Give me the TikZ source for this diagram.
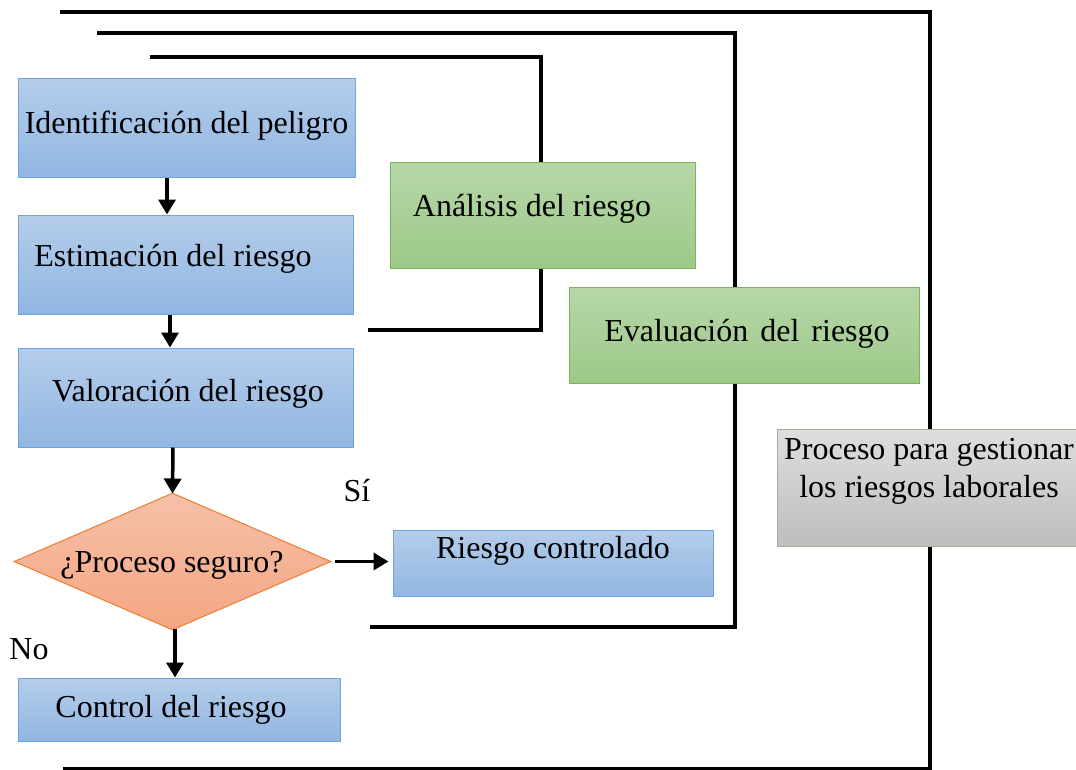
\documentclass[tikz,border=0pt]{standalone}
\usepackage{fontspec}
\setmainfont{Liberation Serif}
\usetikzlibrary{shapes.geometric,arrows.meta}
\definecolor{bluetop}{RGB}{180,205,234}
\definecolor{bluebot}{RGB}{145,182,226}
\definecolor{blueline}{RGB}{110,165,220}
\definecolor{greentop}{RGB}{182,215,168}
\definecolor{greenbot}{RGB}{157,201,136}
\definecolor{greenline}{RGB}{125,180,90}
\definecolor{orangetop}{RGB}{245,192,168}
\definecolor{orangebot}{RGB}{245,166,130}
\definecolor{orangeline}{RGB}{237,125,49}
\definecolor{graytop}{RGB}{222,222,222}
\definecolor{graybot}{RGB}{190,190,190}
\definecolor{grayline}{RGB}{160,175,150}
\tikzset{
  box/.style={rectangle, inner sep=0pt, line width=1pt},
  bluebox/.style={box, top color=bluetop, bottom color=bluebot, draw=blueline},
  greenbox/.style={box, top color=greentop, bottom color=greenbot, draw=greenline},
  graybox/.style={box, top color=graytop, bottom color=graybot, draw=grayline},
  decision/.style={diamond, inner sep=0pt, line width=1pt, top color=orangetop, bottom color=orangebot, draw=orangeline},
  txt/.style={inner sep=0pt, font=\fontsize{32}{38}\selectfont, align=center},
  bracket/.style={line width=3.5pt, miter limit=10},
  arr/.style={line width=3.5pt, -{Triangle[length=15pt,width=17pt]}},
}
\begin{document}
\begin{tikzpicture}[x=1pt,y=-1pt]
\useasboundingbox (0,0) rectangle (1076,769);
% brackets
\draw[bracket] (60,12) -- (930,12) -- (930,769) -- (63,769);
\draw[bracket] (97,33) -- (735,33) -- (735,627) -- (370,627);
\draw[bracket] (150,57) -- (541,57) -- (541,330) -- (368,330);
% boxes
\node[bluebox, minimum width=337pt, minimum height=99pt] (id) at (186.5,127.5) {};
\node[txt] (idt) at (186.5,126) {Identificación del peligro};
\node[bluebox, minimum width=335pt, minimum height=99pt] (est) at (185.5,264.5) {};
\node[txt] (estt) at (173,259) {Estimación del riesgo};
\node[bluebox, minimum width=335pt, minimum height=99pt] (val) at (185.5,397.5) {};
\node[txt] (valt) at (188,394) {Valoración del riesgo};
\node[decision, minimum width=317pt, minimum height=137pt] (dec) at (172.5,561.5) {};
\node[txt] (dect) at (172,565) {¿Proceso seguro?};
\node[bluebox, minimum width=320pt, minimum height=66pt] (rc) at (553,563) {};
\node[txt] (rct) at (553,551) {Riesgo controlado};
\node[bluebox, minimum width=322pt, minimum height=63pt] (ctl) at (179,709.5) {};
\node[txt] (ctlt) at (171,710) {Control del riesgo};
\node[greenbox, minimum width=305pt, minimum height=106pt] (an) at (542.5,215) {};
\node[txt] (ant) at (532,209) {Análisis del riesgo};
\node[greenbox, minimum width=350pt, minimum height=96pt] (ev) at (744,335) {};
\node[txt] (evt) at (747,334) {Evaluación\hspace{4pt} del\hspace{4pt} riesgo};
\node[graybox, minimum width=305pt, minimum height=117pt] (pr) at (929.5,487.5) {};
\node[txt] (prt) at (929,471) {Proceso para gestionar\\los riesgos laborales};
% labels
\node[txt] (si) at (357,491) {Sí};
\node[txt] (no) at (29,649) {No};
% arrows
\draw[arr] ([xshift=-19.5pt]id.south) -- ([xshift=-18.5pt]est.north);
\draw[arr] ([xshift=-15.5pt]est.south) -- ([xshift=-15.5pt]val.north);
\draw[arr] ([xshift=-12.5pt]val.south) -- ([yshift=-1pt]dec.north);
\draw[arr] ([xshift=3pt]dec.east) -- ([xshift=-4pt]rc.west |- dec.east);
\draw[arr] ([xshift=2.5pt,yshift=2pt]dec.south) -- ([xshift=-4pt]ctl.north);
\end{tikzpicture}
\end{document}
